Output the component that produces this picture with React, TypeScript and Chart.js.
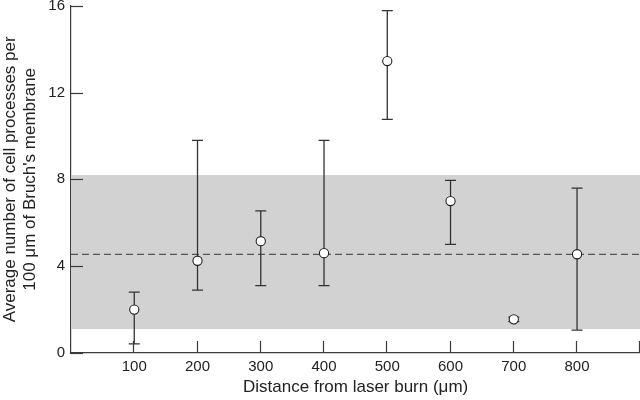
import React, { useEffect, useRef } from 'react';
import { Chart, registerables } from 'chart.js';

Chart.register(...registerables);

const distances = [100, 200, 300, 400, 500, 600, 700, 800];
const means = [2.0, 4.25, 5.15, 4.6, 13.45, 7.0, 1.55, 4.55];
const lowers = [0.42, 2.9, 3.1, 3.1, 10.76, 5.0, 1.45, 1.05];
const uppers = [2.8, 9.8, 6.55, 9.8, 15.77, 7.95, 1.65, 7.6];
const bandLow = 1.1;
const bandHigh = 8.2;
const overallMean = 4.54;
const yTickValues = [0, 4, 8, 12, 16];
const xTickValues = [100, 200, 300, 400, 500, 600, 700, 800, 900];
const xLabelValues = [100, 200, 300, 400, 500, 600, 700, 800];

const FONT = "'Liberation Sans', Arial, Helvetica, sans-serif";
const AXIS = '#3a3a3a';

const decorPlugin = {
  id: 'decor',
  beforeDatasetsDraw(chart: any) {
    const { ctx, chartArea, scales } = chart;
    const x = scales.x;
    const y = scales.y;
    ctx.save();
    const yTop = y.getPixelForValue(bandHigh);
    const yBot = y.getPixelForValue(bandLow);
    ctx.fillStyle = '#d2d2d2';
    ctx.fillRect(chartArea.left, yTop, chartArea.right - chartArea.left, yBot - yTop);
    const ym = y.getPixelForValue(overallMean);
    ctx.strokeStyle = '#555555';
    ctx.lineWidth = 1.3;
    ctx.setLineDash([7, 4]);
    ctx.beginPath();
    ctx.moveTo(chartArea.left, ym);
    ctx.lineTo(chartArea.right, ym);
    ctx.stroke();
    ctx.setLineDash([]);
    ctx.strokeStyle = '#333333';
    ctx.lineWidth = 1.3;
    distances.forEach((d, i) => {
      const px = x.getPixelForValue(d);
      const pl = y.getPixelForValue(lowers[i]);
      const pu = y.getPixelForValue(uppers[i]);
      ctx.beginPath();
      ctx.moveTo(px, pl);
      ctx.lineTo(px, pu);
      ctx.moveTo(px - 5.5, pl);
      ctx.lineTo(px + 5.5, pl);
      ctx.moveTo(px - 5.5, pu);
      ctx.lineTo(px + 5.5, pu);
      ctx.stroke();
    });
    ctx.strokeStyle = AXIS;
    ctx.lineWidth = 1.2;
    xTickValues.forEach((v) => {
      const px = Math.min(Math.round(x.getPixelForValue(v)) - 0.5, chartArea.right - 0.5);
      ctx.beginPath();
      ctx.moveTo(px, chartArea.bottom);
      ctx.lineTo(px, chartArea.bottom - 12);
      ctx.stroke();
    });
    yTickValues.forEach((v) => {
      const py = Math.round(y.getPixelForValue(v)) + 0.5;
      ctx.beginPath();
      ctx.moveTo(chartArea.left, py);
      ctx.lineTo(chartArea.left + 12, py);
      ctx.stroke();
    });
    ctx.restore();
  },
};

export default function App() {
  const ref = useRef<HTMLCanvasElement | null>(null);

  useEffect(() => {
    document.body.style.margin = '0';
    const canvas = ref.current;
    if (!canvas) return;
    const chart = new Chart(canvas, {
      type: 'scatter',
      data: {
        datasets: [
          {
            data: distances.map((d, i) => ({ x: d, y: means[i] })),
            pointRadius: 4.6,
            pointBackgroundColor: '#ffffff',
            pointBorderColor: '#222222',
            pointBorderWidth: 1.1,
            showLine: false,
          },
        ],
      },
      options: {
        animation: false,
        responsive: false,
        maintainAspectRatio: false,
        devicePixelRatio: 1,
        layout: { padding: { top: 5, right: 0, left: 0, bottom: 0 } },
        plugins: {
          legend: { display: false },
          tooltip: { enabled: false },
        },
        scales: {
          x: {
            type: 'linear',
            min: 0,
            max: 900,
            afterFit: (s: any) => {
              s.height = 47;
              s.paddingLeft = 0;
              s.paddingRight = 0;
            },
            afterBuildTicks: (s: any) => {
              s.ticks = xTickValues.map((v) => ({ value: v }));
            },
            ticks: {
              autoSkip: false,
              maxRotation: 0,
              padding: 5,
              color: '#222222',
              font: { family: FONT, size: 15 },
              callback: (v: any) => (xLabelValues.includes(Number(v)) ? String(v) : ''),
            },
            grid: { display: false, drawTicks: false },
            border: { display: true, color: AXIS, width: 1.2 },
            title: {
              display: true,
              text: 'Distance from laser burn (\u03bcm)',
              color: '#222222',
              font: { family: FONT, size: 17 },
              padding: { top: 0, bottom: 2 },
            },
          },
          y: {
            type: 'linear',
            min: 0,
            max: 16,
            afterFit: (s: any) => {
              s.width = 71;
              s.paddingTop = 0;
              s.paddingBottom = 0;
            },
            afterBuildTicks: (s: any) => {
              s.ticks = yTickValues.map((v) => ({ value: v }));
            },
            ticks: {
              padding: 6,
              color: '#222222',
              font: { family: FONT, size: 15 },
            },
            grid: { display: false, drawTicks: false },
            border: { display: true, color: AXIS, width: 1.2 },
            title: {
              display: true,
              text: ['Average number of cell processes per', '100 \u03bcm of Bruch\'s membrane'],
              color: '#222222',
              font: { family: FONT, size: 17, lineHeight: 1.2 },
              padding: { top: 0, bottom: 0 },
            },
          },
        },
      },
      plugins: [decorPlugin],
    });
    return () => chart.destroy();
  }, []);

  return (
    <div style={{ width: 640, height: 400, overflow: 'hidden', background: '#ffffff' }}>
      <canvas ref={ref} width={646} height={400} style={{ display: 'block' }} />
    </div>
  );
}
